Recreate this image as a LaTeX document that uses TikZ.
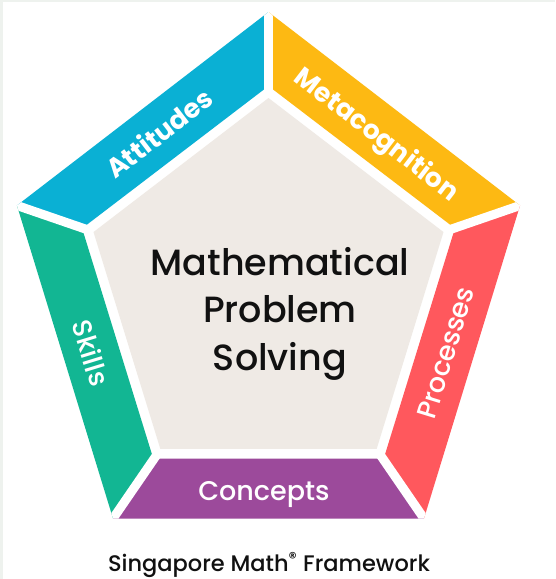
\documentclass[tikz,border=0pt]{standalone}
\usepackage{fontspec}
\setmainfont{Poppins}
\newfontfamily\popmed{Poppins Medium}
\newfontfamily\popbold{Poppins Bold}
\usetikzlibrary{calc}
\definecolor{cblue}{HTML}{0AB0D4}
\definecolor{corange}{HTML}{FDB913}
\definecolor{cred}{HTML}{FF585D}
\definecolor{cgreen}{HTML}{12B693}
\definecolor{cpurple}{HTML}{9C4A9B}
\definecolor{cgray}{HTML}{EFEAE5}
\definecolor{cedge}{HTML}{EEF2EE}
\definecolor{ctext}{HTML}{111111}
\begin{document}
\begin{tikzpicture}[x=1pt,y=-1pt,
  sep/.style={white,line width=9pt},
  boldlbl/.style={white,font=\popbold\fontsize{26.5}{30}\selectfont,inner sep=0pt,text depth=0pt},
  medlbl/.style={white,font=\popmed\fontsize{27}{30}\selectfont,inner sep=0pt,text depth=0pt},
  centerlbl/.style={ctext,font=\popmed\fontsize{36.5}{47.5}\selectfont,align=center,inner sep=0pt},
  caption/.style={ctext,font=\popmed\fontsize{22.5}{26}\selectfont,inner sep=0pt}]
\useasboundingbox (0,0) rectangle (555,579);
\fill[white] (0,0) rectangle (555,579);
\fill[cedge] (0,0) rectangle (3,579);
\fill[cedge] (0,0) rectangle (555,2);
\coordinate (C) at (268.5,292);
\foreach \n/\a in {t/270, l/198, bl/126, br/54, r/-18} {
  \coordinate (o\n) at ($(C)+(\a:264.5 and 280)$);
  \coordinate (i\n) at ($(C)+(\a:196 and 206)$);
  \coordinate (g\n) at ($(C)+(\a:184 and 194)$);
}
% bands
\fill[cblue]   (ot) -- (ol) -- (il) -- (it) -- cycle;
\fill[corange] (ot) -- (or) -- (ir) -- (it) -- cycle;
\fill[cred]    (or) -- (obr) -- (ibr) -- (ir) -- cycle;
\fill[cpurple] (obr) -- (obl) -- (ibl) -- (ibr) -- cycle;
\fill[cgreen]  (obl) -- (ol) -- (il) -- (ibl) -- cycle;
% separators
\begin{scope}
  \clip (ot) -- (ol) -- (obl) -- (obr) -- (or) -- cycle;
  \foreach \n in {t,l,bl,br,r} {
    \draw[sep] (C) -- ($(C)!1.08!(o\n)$);
  }
\end{scope}
% centre
\fill[cgray] (gt) -- (gl) -- (gbl) -- (gbr) -- (gr) -- cycle;
\node[centerlbl,anchor=base] (main) at (280,370) {Mathematical\\Problem\\Solving};
% labels
\node[boldlbl,rotate=37.57] (att) at ($(ol)!0.5!(ot)!0.5!($(il)!0.5!(it)$)$) {Attitudes};
\node[boldlbl,rotate=-37.57] (meta) at ($(ot)!0.5!(or)!0.5!($(it)!0.5!(ir)$)$) {Metacognition};
\node[medlbl,rotate=72.93] (proc) at ($(or)!0.5!(obr)!0.5!($(ir)!0.5!(ibr)$)$) {Processes};
\node[medlbl,anchor=base] (conc) at (264,500) {Concepts};
\node[medlbl,rotate=-72.93] (skills) at ($(ol)!0.5!(obl)!0.5!($(il)!0.5!(ibl)$)$) {Skills};
\node[caption,anchor=base] (cap) at (269,571) {Singapore Math\textsuperscript{®} Framework};
\end{tikzpicture}
\end{document}
